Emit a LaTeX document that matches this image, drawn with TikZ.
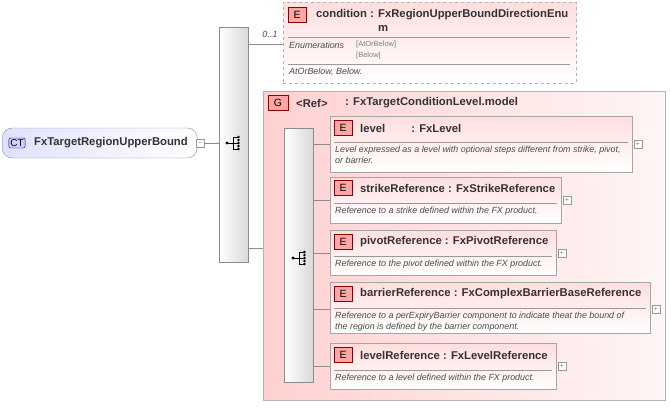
\documentclass[tikz,border=0pt]{standalone}
\usepackage{fontspec}
\setmainfont{Liberation Sans}
\begin{document}
\begin{tikzpicture}[x=1pt,y=-1pt,
  elem/.style={draw=black!35,line width=0.8pt,left color=red!13,right color=white,shading angle=0},
  grp/.style={draw=black!30,line width=0.8pt,left color=red!18,right color=red!4},
  bar/.style={draw=black!45,line width=0.6pt,left color=white,right color=black!15},
  badge/.style={draw=red!55!black,fill=red!35,minimum width=18pt,minimum height=15pt,inner sep=0pt,font=\fontsize{10.5}{11}\selectfont},
  hdr/.style={anchor=west,font=\bfseries\fontsize{11.3}{13}\selectfont,text=black!80,inner sep=0pt},
  dsc/.style={anchor=north west,font=\itshape\fontsize{8.9}{10.5}\selectfont,text=black!70,inner sep=0pt,align=left},
  conn/.style={draw=black!45,line width=0.6pt},
  plusb/.style={draw=black!40,fill=white,minimum size=8pt,inner sep=0pt,font=\fontsize{7}{7}\selectfont,text=black!50}]
\useasboundingbox (0,0) rectangle (670,408);
% CT
\node[draw=black!45,rounded corners=10pt,left color=blue!12,right color=white,minimum width=195pt,minimum height=30pt,anchor=west] (ct) at (2,143) {};
\node[draw=blue!50!black,fill=blue!18,rounded corners=2pt,inner sep=1.5pt,font=\fontsize{10}{11}\selectfont] (ctb) at (17,143) {CT};
\node[hdr] (ctt) at (34,143) {FxTargetRegionUpperBound};
\node[plusb] (ctm) at (200,143) {--};
% bar1
\node[bar,minimum width=29pt,minimum height=235pt,anchor=north west,inner sep=0] (b1) at (219,27) {};
\fill (227,143) circle (1.6);
\draw[line width=0.7pt] (227,143) -- (233,143) (233,137) -- (233,149) (233,137)--(238,137) (233,143)--(238,143) (233,149)--(238,149);
\foreach \yy in {137,140,143,146,149}{\fill (238.5,\yy) circle (1.3);}
\draw[conn] (ctm.east) -- (b1.west|-ctm);
% condition
\node[elem,dashed,draw=black!30,minimum width=293pt,minimum height=81pt,anchor=north west,inner sep=0] (cond) at (283,2) {};
\node[badge] (cb) at (297,15) {E};
\node[hdr,anchor=north west,align=left] (ct1) at (316,9) {condition : FxRegionUpperBoundDirectionEnu\\[1pt]\hspace{62pt}m};
\draw[black!40] (288,37) -- (570,37) (288,64) -- (570,64);
\node[dsc] (en) at (289,42) {Enumerations};
\node[dsc,font=\fontsize{7.5}{10.5}\selectfont,text=black!50] (ev) at (356,41) {{[AtOrBelow]}\\{}{[Below]}};
\node[dsc] (ed) at (289,68) {AtOrBelow, Below.};
\node[font=\itshape\fontsize{9}{10}\selectfont,text=black!70] (occ) at (270,34) {0..1};
\draw[conn] (248,44) -- (cond.west|-0,44);
% group
\node[grp,minimum width=402pt,minimum height=309pt,anchor=north west,inner sep=0] (g) at (263,91) {};
\node[badge,minimum width=20pt] (gb) at (278,103) {G};
\node[hdr] (gr) at (296,103) {<Ref>};
\node[hdr] (gt) at (345,103) {: FxTargetConditionLevel.model};
\draw[conn] (248,248) -- (g.west|-0,248);
% bar2
\node[bar,minimum width=29pt,minimum height=254pt,anchor=north west,inner sep=0] (b2) at (284,128) {};
\fill (293,258) circle (1.6);
\draw[line width=0.7pt] (293,258) -- (299,258) (299,252) -- (299,264) (299,252)--(304,252) (299,258)--(304,258) (299,264)--(304,264);
\foreach \yy in {252,255,258,261,264}{\fill (304.5,\yy) circle (1.3);}
% elements
\newcommand{\elembox}[9]{%
 \node[elem,minimum width=#3pt,minimum height=#4pt,anchor=north west,inner sep=0] (#1) at (330,#2) {};
 \node[badge] (#1b) at (343,#5) {E};
 \node[hdr] (#1h) at (360,#5) {#6};
 \draw[black!40] (334,#7) -- (#3+326,#7);
 \node[dsc] (#1d) at (335,#7+4) {#8};
 \node[plusb] (#1p) at (#3+336,#9) {+};
 \draw[conn] (b2.east|-0,#9) -- (#1.west|-0,#9);}
\elembox{e1}{116}{302}{56}{128}{level\hspace{26pt}: FxLevel}{142}{Level expressed as a level with optional steps different from strike, pivot,\\or barrier.}{144}
\elembox{e2}{177}{231}{46}{188}{strikeReference : FxStrikeReference}{203}{Reference to a strike defined within the FX product.}{200}
\elembox{e3}{230}{226}{45}{242}{pivotReference : FxPivotReference}{256}{Reference to the pivot defined within the FX product.}{253}
\elembox{e4}{282}{320}{51}{294}{barrierReference : FxComplexBarrierBaseReference}{308}{Reference to a perExpiryBarrier component to indicate theat the bound of\\the region is defined by the barrier component.}{309}
\elembox{e5}{343}{226}{46}{355}{levelReference : FxLevelReference}{370}{Reference to a level defined within the FX product.}{366}
\end{tikzpicture}
\end{document}
